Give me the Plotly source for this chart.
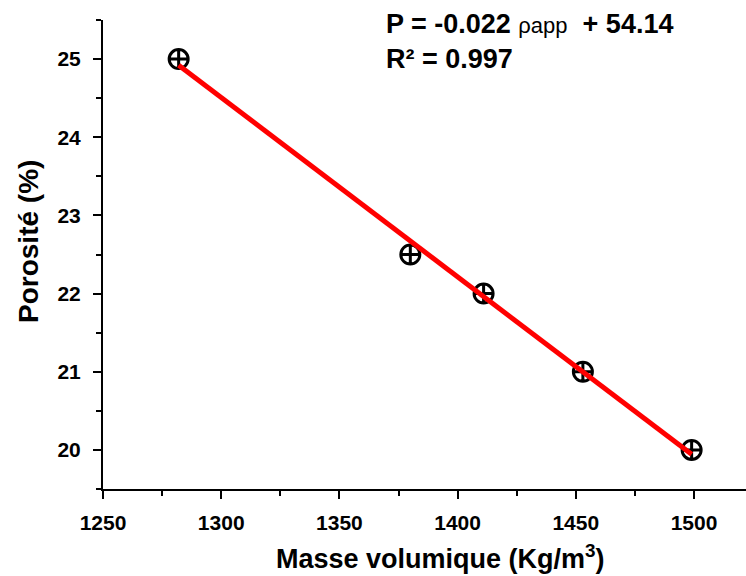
import numpy as np
import plotly.graph_objects as go

# Apparent density (kg/m3) and porosity (%) measurements
masse_volumique = [1282, 1380, 1411, 1453, 1499]
porosite = [25.0, 22.5, 22.0, 21.0, 20.0]

# Fit line text as printed on the chart
equation_main = "P = -0.022 "
equation_var = "ρapp"
equation_tail = "  + 54.14"
r2_text = "R² = 0.997"

x_ticks = [1250, 1300, 1350, 1400, 1450, 1500]
y_ticks = [20, 21, 22, 23, 24, 25]

# Least-squares regression through the measurements
slope, intercept = np.polyfit(masse_volumique, porosite, 1)
fit_x = np.array([min(masse_volumique), max(masse_volumique)])
fit_y = slope * fit_x + intercept

FONT = "Liberation Sans"

fig = go.Figure()

fig.add_trace(go.Scatter(
    x=masse_volumique, y=porosite, mode="markers",
    marker=dict(symbol="circle-cross-open", size=19, color="black",
                line=dict(width=3, color="black")),
    showlegend=False, cliponaxis=False,
))

fig.add_trace(go.Scatter(
    x=fit_x, y=fit_y, mode="lines",
    line=dict(color="#ff0000", width=5),
    showlegend=False,
))

axis_common = dict(
    showline=True, linecolor="black", linewidth=2,
    ticks="outside", ticklen=8, tickwidth=2, tickcolor="black",
    showgrid=False, zeroline=False, mirror=False,
    tickfont=dict(family=FONT, size=21, color="black"),
)

fig.update_xaxes(
    range=[1250, 1522], tickvals=x_ticks,
    ticktext=[f"<b>{v}</b>" for v in x_ticks],
    minor=dict(dtick=25, tick0=1250, ticks="outside", ticklen=5,
               tickwidth=2, tickcolor="black", showgrid=False),
    ticklabelstandoff=6,
    **axis_common,
)
fig.update_yaxes(
    range=[19.5, 25.5], tickvals=y_ticks,
    ticktext=[f"<b>{v}</b>" for v in y_ticks],
    minor=dict(dtick=0.5, tick0=19.5, ticks="outside", ticklen=5,
               tickwidth=2, tickcolor="black", showgrid=False),
    ticklabelstandoff=8,
    **axis_common,
)

title_font = dict(family=FONT, size=27, color="black")

fig.add_annotation(
    text="<b>Masse volumique (Kg/m<sup>3</sup>)</b>", xref="paper", yref="paper",
    x=(440 - 103) / 643, y=(489 - 557) / 469, xanchor="center", yanchor="middle",
    showarrow=False, font=title_font,
)
fig.add_annotation(
    text="<b>Porosité (%)</b>", xref="paper", yref="paper", textangle=-90,
    x=(28 - 103) / 643, y=(489 - 242) / 469, xanchor="center", yanchor="middle",
    showarrow=False, font=dict(family=FONT, size=28, color="black"),
)

eq_font = dict(family=FONT, size=27, color="black")
fig.add_annotation(
    text=("<b>" + equation_main + "</b>"
          + "<span style='font-size:22px'>" + equation_var + "</span>"
          + "<b>" + equation_tail + "</b>"),
    xref="paper", yref="paper",
    x=(384 - 103) / 643, y=(489 - 24) / 469, xanchor="left", yanchor="middle",
    showarrow=False, font=eq_font,
)
fig.add_annotation(
    text="<b>" + r2_text + "</b>", xref="paper", yref="paper",
    x=(384 - 103) / 643, y=(489 - 59) / 469, xanchor="left", yanchor="middle",
    showarrow=False, font=eq_font,
)

fig.update_layout(
    width=746, height=576,
    margin=dict(l=103, r=0, t=20, b=87),
    plot_bgcolor="white", paper_bgcolor="white",
    font=dict(family=FONT, color="black"),
)

fig.write_html("out.html")
